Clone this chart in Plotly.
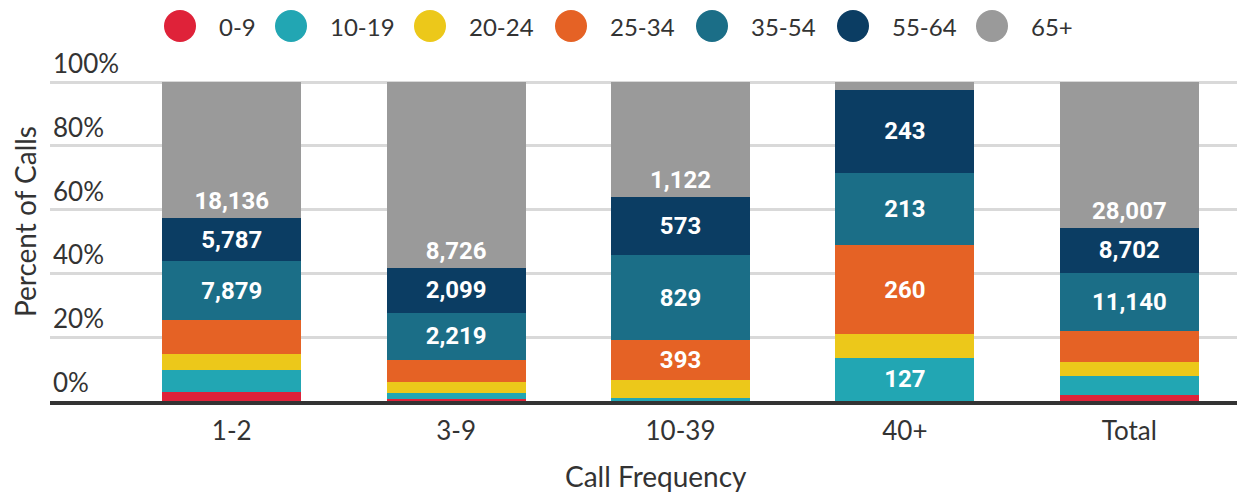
import plotly.graph_objects as go

# call frequency buckets and caller age groups
categories = ["1-2", "3-9", "10-39", "40+", "Total"]
age_groups = ["0-9", "10-19", "20-24", "25-34", "35-54", "55-64", "65+"]

# number of calls per age group, one value per frequency bucket
calls_0_9 = [1235, 75, 3, 0, 1230]
calls_10_19 = [2900, 285, 25, 127, 3570]
calls_20_24 = [2090, 525, 175, 69, 2650]
calls_25_34 = [4560, 1035, 393, 260, 6030]
calls_35_54 = [7879, 2219, 829, 213, 11140]
calls_55_64 = [5787, 2099, 573, 243, 8702]
calls_65_plus = [18136, 8726, 1122, 23, 28007]

colors = ["#DF2239", "#22A6B3", "#ECC81A", "#E56225", "#1B6E87", "#0B3D63", "#9A9A9A"]

series = [calls_0_9, calls_10_19, calls_20_24, calls_25_34,
          calls_35_54, calls_55_64, calls_65_plus]

TEXT = "#333333"
FONT = "Lato"
W, H = 1237, 493
# plot box: 0% sits at y=401px, 100% at y=82px; headroom above for the "100%" label
Y0_PX, Y100_PX, Y_MAX = 401, 82, 116
PX_PER_PCT = (Y0_PX - Y100_PX) / 100
ML, MR = 50, 0
MB = H - Y0_PX
MT = Y0_PX - Y_MAX * PX_PER_PCT
PW, PH = W - ML - MR, H - MT - MB

totals = [sum(col) for col in zip(*series)]


def px_x(px):
    return (px - ML) / PW


def px_y(py):
    return (H - MB - py) / PH


fig = go.Figure()
for name, vals, col in zip(age_groups, series, colors):
    # only segments that are big enough get a count label
    labels = [f"{v:,}" if v / t >= 0.12 else "" for v, t in zip(vals, totals)]
    fig.add_trace(
        go.Bar(
            x=categories,
            y=vals,
            name=name,
            marker=dict(color=col, line=dict(width=0)),
            text=labels,
            textposition="inside",
            insidetextanchor="start" if name == "65+" else "middle",
            textangle=0,
            textfont=dict(family="Roboto", size=24, color="white", weight="bold"),
            showlegend=False,
            hoverinfo="x+y+name",
        )
    )

# custom legend: big round swatches above the plot
legend_cx = [180, 291, 430, 571, 712, 853, 992]
shapes = []
annotations = []
for name, col, cx in zip(age_groups, colors, legend_cx):
    shapes.append(dict(
        type="circle", xref="paper", yref="paper",
        xsizemode="pixel", ysizemode="pixel",
        xanchor=px_x(cx), yanchor=px_y(26),
        x0=-16, x1=16, y0=-16, y1=16,
        fillcolor=col, line=dict(width=0),
    ))
    annotations.append(dict(
        text=name, xref="paper", yref="paper",
        x=px_x(cx + 37), y=px_y(26), xanchor="left", yanchor="middle",
        showarrow=False, font=dict(family=FONT, size=24, color=TEXT),
    ))

annotations.append(dict(
    text="Percent of Calls", xref="paper", yref="paper",
    x=px_x(25), y=px_y(222), xanchor="center", yanchor="middle",
    textangle=-90, showarrow=False, font=dict(family=FONT, size=28, color=TEXT),
))
annotations.append(dict(
    text="Call Frequency", xref="paper", yref="paper",
    x=px_x(656), y=px_y(476), xanchor="center", yanchor="middle",
    showarrow=False, font=dict(family=FONT, size=28, color=TEXT),
))

fig.update_layout(
    width=W,
    height=H,
    margin=dict(l=ML, r=MR, t=MT, b=MB),
    barmode="stack",
    barnorm="percent",
    bargap=0.38,
    plot_bgcolor="white",
    paper_bgcolor="white",
    font=dict(family=FONT, size=24, color=TEXT),
    shapes=shapes,
    annotations=annotations,
    showlegend=False,
)
fig.update_xaxes(
    range=[-0.81, 4.48],
    showline=True,
    linecolor="#333333",
    linewidth=4,
    showgrid=False,
    ticks="",
    ticklabelstandoff=4,
    tickfont=dict(family=FONT, size=26, color=TEXT),
)
fig.update_yaxes(
    range=[0, Y_MAX],
    tickvals=[0, 20, 40, 60, 80, 100],
    ticktext=["0%", "20%", "40%", "60%", "80%", "100%"],
    showgrid=True,
    gridcolor="#D9D9D9",
    gridwidth=3,
    zeroline=False,
    ticklabelposition="inside top",
    tickfont=dict(family=FONT, size=26, color=TEXT),
)

fig.write_html(
    "out.html",
    config={"displayModeBar": False},
    post_script="document.body.style.margin='0';",
)
